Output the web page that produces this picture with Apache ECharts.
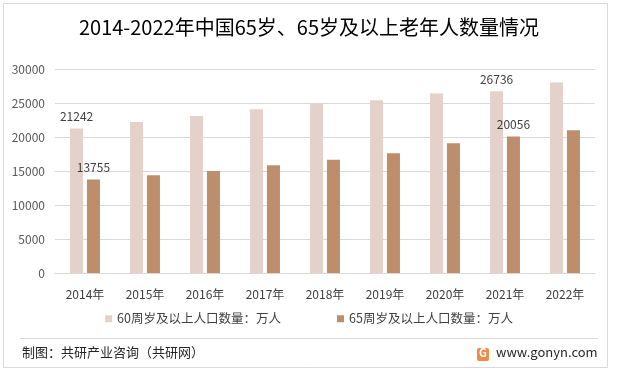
<!DOCTYPE html>
<html>
<head>
<meta charset="utf-8">
<script src="https://cdn.jsdelivr.net/npm/echarts@6/dist/echarts.min.js"></script>
<style>
  html, body { margin: 0; padding: 0; background: #fff; }
  #chart { width: 618px; height: 378px; }
</style>
</head>
<body>
<div id="chart"></div>
<script>
// data
var years = ['2014年', '2015年', '2016年', '2017年', '2018年', '2019年', '2020年', '2021年', '2022年'];
var age60 = [21242, 22200, 23086, 24090, 24949, 25388, 26402, 26736, 28004];
var age65 = [13755, 14386, 15003, 15831, 16658, 17603, 19064, 20056, 20978];
var labelled = [0, 7]; // only these years carry a value label
var seriesNames = ['60周岁及以上人口数量：万人', '65周岁及以上人口数量：万人'];
var yTicks = { min: 0, max: 30000, step: 5000 };

var font = '"Microsoft YaHei", "Noto Sans CJK SC", sans-serif';

function withLabels(arr) {
  return arr.map(function (v, i) {
    if (labelled.indexOf(i) > -1) {
      return { value: v, label: { show: true } };
    }
    return v;
  });
}

var myChart = echarts.init(document.getElementById('chart'));

var option = {
  animation: false,
  backgroundColor: '#fff',
  title: {
    text: '2014-2022年中国65岁、65岁及以上老年人数量情况',
    left: 'center',
    top: 12,
    textStyle: { fontFamily: font, fontSize: 20, fontWeight: 'normal', color: '#000' }
  },
  legend: {
    bottom: 48,
    left: 'center',
    itemWidth: 7,
    itemHeight: 7,
    itemGap: 56,
    icon: 'rect',
    textStyle: { fontFamily: font, fontSize: 12.5, color: '#404040' },
    data: seriesNames
  },
  grid: { left: 55, right: 23, top: 69, bottom: 105 },
  xAxis: {
    type: 'category',
    data: years,
    axisTick: { show: false },
    axisLine: { lineStyle: { color: '#d9d9d9' } },
    axisLabel: { fontFamily: font, fontSize: 12, color: '#404040', margin: 15 }
  },
  yAxis: {
    type: 'value',
    min: yTicks.min,
    max: yTicks.max,
    interval: yTicks.step,
    axisLine: { show: false },
    axisTick: { show: false },
    splitLine: { lineStyle: { color: '#d9d9d9' } },
    axisLabel: { fontFamily: font, fontSize: 12, color: '#595959', margin: 10, formatter: function (v) { return String(v); } }
  },
  series: [
    {
      name: seriesNames[0],
      type: 'bar',
      barWidth: 13,
      barGap: '30%',
      itemStyle: { color: '#e3d1ca' },
      label: { show: false, position: 'top', fontFamily: font, fontSize: 12, color: '#404040', distance: 6 },
      data: withLabels(age60)
    },
    {
      name: seriesNames[1],
      type: 'bar',
      barWidth: 13,
      barGap: '30%',
      itemStyle: { color: '#bc8e6b' },
      label: { show: false, position: 'top', fontFamily: font, fontSize: 12, color: '#404040', distance: 6 },
      data: withLabels(age65)
    }
  ],
  graphic: [
    { type: 'rect', shape: { x: 3.5, y: 3.5, width: 604, height: 364 }, style: { fill: 'none', stroke: '#d9d9d9', lineWidth: 1 }, silent: true },
    { type: 'line', shape: { x1: 20, y1: 338.5, x2: 598, y2: 338.5 }, style: { stroke: '#d9d9d9', lineWidth: 1 } },
    { type: 'text', left: 22, top: 346, style: { text: '制图：共研产业咨询（共研网）', fontFamily: font, fontSize: 13, fill: '#262626' } },
    { type: 'rect', shape: { x: 477, y: 348, width: 12, height: 13, r: 2 }, style: { fill: '#f08a4b' } },
    { type: 'text', left: 479, top: 347, style: { text: 'G', fontFamily: font, fontSize: 11, fontWeight: 'bold', fill: '#fff' } },
    { type: 'text', left: 496, top: 346, style: { text: 'www.gonyn.com', fontFamily: font, fontSize: 13, fill: '#262626' } }
  ]
};

myChart.setOption(option);
</script>
</body>
</html>
